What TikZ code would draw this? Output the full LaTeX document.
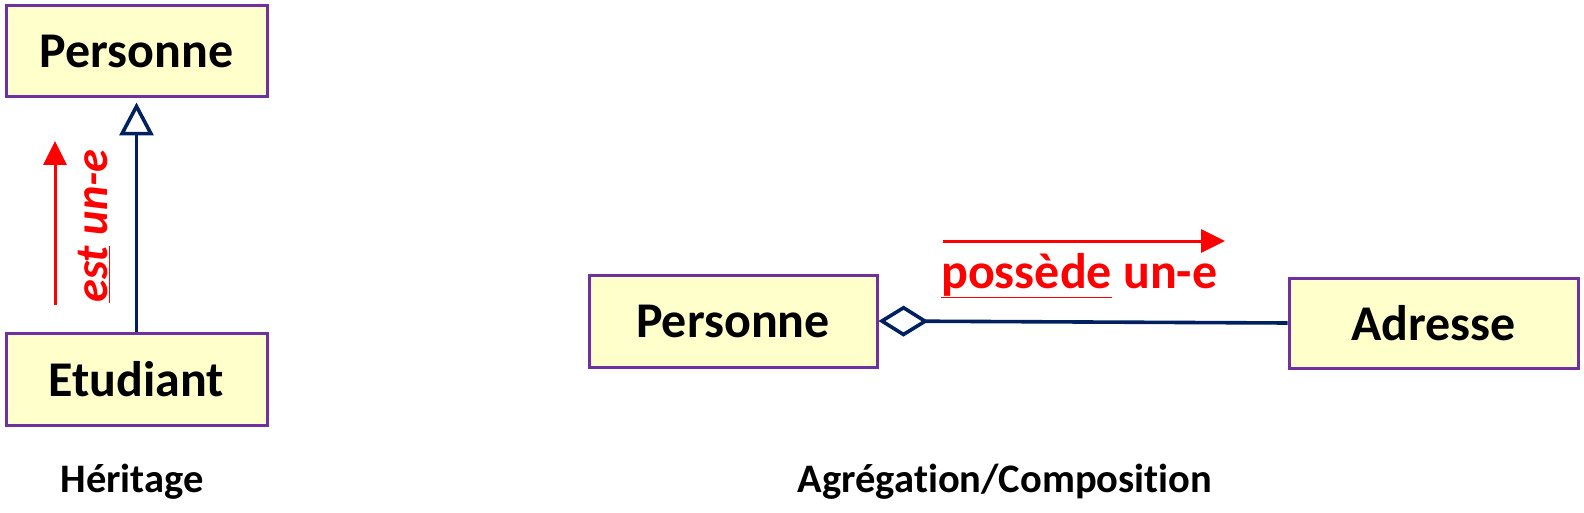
\documentclass[tikz,border=0pt]{standalone}
\usepackage{fontspec}
\setmainfont[Ligatures={NoCommon}]{Carlito}
\usetikzlibrary{arrows.meta}
\definecolor{boxfill}{HTML}{FFFFCC}
\definecolor{boxdraw}{HTML}{7030A0}
\definecolor{navy}{HTML}{002060}
\definecolor{rd}{HTML}{FF0000}
\tikzset{
  classbox/.style={draw=boxdraw, fill=boxfill, line width=3pt, inner sep=0pt,
    font=\fontsize{50}{52}\selectfont\bfseries},
  uml/.style={draw=navy, line width=3.6pt},
  redarrow/.style={draw=rd, line width=3pt, -{Triangle[length=24pt,width=23pt]}},
  redlabel/.style={text=rd, font=\fontsize{50}{52}\selectfont\bfseries, inner sep=0pt},
  caption/.style={font=\fontsize{40.5}{42}\selectfont\bfseries, inner sep=0pt}
}
\begin{document}
\begin{tikzpicture}[x=1pt,y=-1pt]
\useasboundingbox (0,0) rectangle (1584,513);
% left: inheritance
\node[classbox, minimum width=261pt, minimum height=91pt] (pers1) at (136.5,51.5) {Personne};
\node[classbox, minimum width=261pt, minimum height=92pt] (etu) at (136.5,379) {Etudiant};
\draw[uml, -{Triangle[open,length=33pt,width=34pt,fill=white]}, shorten >=4pt] (etu.north) -- (pers1.south);
\coordinate (ra1) at (55,305);
\coordinate (ra2) at (55,141);
\draw[redarrow] (ra1) -- (ra2);
\node[redlabel, rotate=90, font=\fontsize{46.5}{48}\selectfont\bfseries\itshape] (isa) at (94,226) {\underline{est} un-e};
\node[caption, anchor=base] (cap1) at (132,492) {Héritage};
% right: aggregation
\node[classbox, minimum width=288pt, minimum height=92pt] (pers2) at (733,321) {Personne};
\node[classbox, minimum width=289pt, minimum height=90pt] (adr) at (1433.5,323) {Adresse};
\draw[uml, {Diamond[open,length=50pt,width=31pt,fill=white]}-] (pers2.east) -- (adr.west);
\coordinate (rb1) at (943,241);
\coordinate (rb2) at (1225,241);
\draw[redarrow] (rb1) -- (rb2);
\node[redlabel, anchor=base west] (has) at (941,288) {\underline{possède} un-e};
\node[caption, anchor=base] (cap2) at (1005,492) {Agrégation/Composition};
\end{tikzpicture}
\end{document}
